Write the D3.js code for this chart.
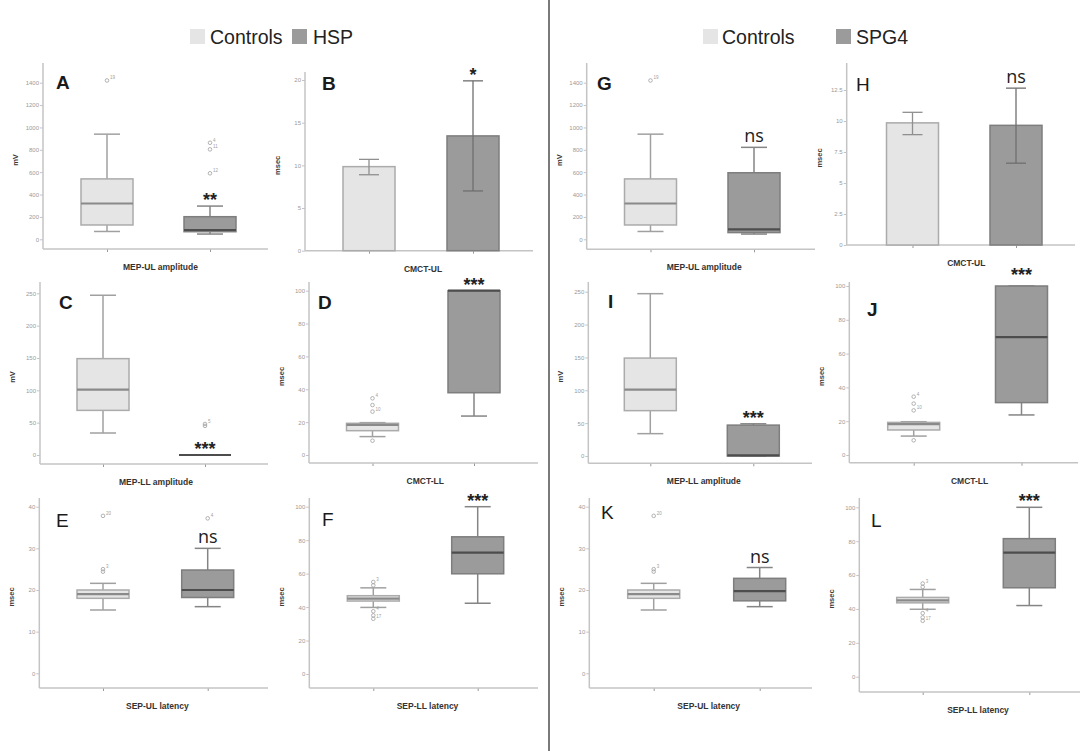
<!DOCTYPE html>
<html>
<head>
<meta charset="utf-8">
<script src="https://cdn.jsdelivr.net/npm/d3@7"></script>
<style>
  body { margin: 0; background: #fff; }
  svg { font-family: "Liberation Sans", Arial, sans-serif; }
</style>
</head>
<body>
<svg id="chart" width="1083" height="751"></svg>
<script>
// box stats: [low whisker, Q1, median, Q3, high whisker]
const mepUL_controls = [70, 128, 320, 540, 940];
const mepUL_hsp = [47, 68, 83, 202, 297];
const mepUL_spg4 = [47, 60, 89, 595, 822];

const mepLL_controls = [34, 69, 101, 149, 247];
const mepLL_hsp = [0, 0, 0, 0, 0];
const mepLL_spg4 = [0, 0, 1, 47, 49];

const cmctLL_controls = [11.2, 14.8, 18.3, 19.3, 19.7];
const cmctLL_hsp = [23.7, 37.9, 100, 100, 100];
const cmctLL_spg4 = [23.7, 31, 69.8, 100, 100];

const sepUL_controls = [15.2, 18, 19, 20, 21.6];
const sepUL_hsp = [16, 18.2, 20, 24.8, 30];
const sepUL_spg4 = [16, 17.4, 19.75, 22.8, 25.4];

const sepLL_controls = [39.8, 43.6, 45, 46.8, 51.5];
const sepLL_hsp = [42.3, 59.9, 72.6, 82, 100];
const sepLL_spg4 = [42, 52.5, 73.3, 81.5, 100];

// CMCT-UL bar charts: [mean, error low, error high]
const cmctUL_controls = [9.85, 8.9, 10.7];
const cmctUL_hsp = [13.45, 7.0, 19.9];
const cmctUL_spg4 = [9.65, 6.6, 12.65];

// outliers: [value, case label] (empty label = unlabeled point)
const mepUL_controls_out = [[1420, "19"]];
const mepUL_hsp_out = [[863, "4"], [804, "11"], [590, "12"]];
const mepLL_hsp_out = [[48, "5"], [45, ""]];
const cmctLL_controls_out = [[34.5, "4"], [30.4, ""], [26.4, "10"], [8.7, ""]];
const sepUL_controls_out = [[37.8, "20"], [25, "3"], [24.4, ""]];
const sepUL_hsp_out = [[37.2, "4"]];
const sepLL_controls_out = [[55, "3"], [53, ""], [37.5, "4"], [35, ""], [33, "17"]];

// tick values
const ticksMep = [0, 200, 400, 600, 800, 1000, 1200, 1400];
const ticksMepLL = [0, 50, 100, 150, 200, 250];
const ticksCmctUL_hsp = [0, 5, 10, 15, 20];
const ticksCmctUL_spg4 = [0, 2.5, 5, 7.5, 10, 12.5];
const ticksPct = [0, 20, 40, 60, 80, 100];
const ticksSepUL = [0, 10, 20, 30, 40];

const groupsLeft = ["Controls", "HSP"];
const groupsRight = ["Controls", "SPG4"];

// panel layout (pixel frames only)
const panels = [
  {id: "A", type: "box", x: 43, axisY: 249, top: 63, right: 268, y0: 239.3, yTop: 82.7, ticks: ticksMep, c: [107, 210], unit: "mV", label: "MEP-UL amplitude", groups: groupsLeft, data: [mepUL_controls, mepUL_hsp], out: [mepUL_controls_out, mepUL_hsp_out], sig: "**", letter: [56, 89], bold: true},
  {id: "B", type: "bar", x: 305, axisY: 250.7, top: 72, right: 533, y0: 250.7, yTop: 80, ticks: ticksCmctUL_hsp, c: [369, 473], unit: "msec", label: "CMCT-UL", groups: groupsLeft, data: [cmctUL_controls, cmctUL_hsp], sig: "*", letter: [322, 90], bold: true},
  {id: "C", type: "box", x: 40, axisY: 464, top: 282, right: 268, y0: 455, yTop: 293.3, ticks: ticksMepLL, c: [103, 205], unit: "mV", label: "MEP-LL amplitude", groups: groupsLeft, data: [mepLL_controls, mepLL_hsp], out: [[], mepLL_hsp_out], sig: "***", letter: [59, 309], bold: true},
  {id: "D", type: "box", x: 309, axisY: 463, top: 282, right: 538, y0: 455, yTop: 290.7, ticks: ticksPct, c: [372.5, 474], unit: "msec", label: "CMCT-LL", groups: groupsLeft, data: [cmctLL_controls, cmctLL_hsp], out: [cmctLL_controls_out, []], sig: "***", letter: [318, 309], bold: true},
  {id: "E", type: "box", x: 39.3, axisY: 688, top: 498, right: 268, y0: 673.3, yTop: 506.7, ticks: ticksSepUL, c: [103, 207.7], unit: "msec", label: "SEP-UL latency", groups: groupsLeft, data: [sepUL_controls, sepUL_hsp], out: [sepUL_controls_out, sepUL_hsp_out], sig: "ns", letter: [56, 527], bold: false},
  {id: "F", type: "box", x: 309.3, axisY: 688, top: 498, right: 538, y0: 674, yTop: 506.7, ticks: ticksPct, c: [373.3, 477.7], unit: "msec", label: "SEP-LL latency", groups: groupsLeft, data: [sepLL_controls, sepLL_hsp], out: [sepLL_controls_out, []], sig: "***", letter: [322, 526], bold: false},
  {id: "G", type: "box", x: 586.7, axisY: 249.3, top: 63, right: 815, y0: 239.3, yTop: 82.7, ticks: ticksMep, c: [650.5, 754], unit: "mV", label: "MEP-UL amplitude", groups: groupsRight, data: [mepUL_controls, mepUL_spg4], out: [mepUL_controls_out, []], sig: "ns", letter: [597, 90], bold: true},
  {id: "H", type: "bar", x: 846.7, axisY: 245, top: 63, right: 1075, y0: 245, yTop: 90, ticks: ticksCmctUL_spg4, c: [912.5, 1016], unit: "msec", label: "CMCT-UL", groups: groupsRight, data: [cmctUL_controls, cmctUL_spg4], sig: "ns", letter: [856, 91], bold: false},
  {id: "I", type: "box", x: 588.3, axisY: 463.3, top: 282, right: 812, y0: 456, yTop: 291.7, ticks: ticksMepLL, c: [650.3, 753.3], unit: "mV", label: "MEP-LL amplitude", groups: groupsRight, data: [mepLL_controls, mepLL_spg4], out: [[], []], sig: "***", letter: [608, 308], bold: true},
  {id: "J", type: "box", x: 849.3, axisY: 462.7, top: 282, right: 1078, y0: 455, yTop: 286, ticks: ticksPct, c: [913.7, 1021.5], unit: "msec", label: "CMCT-LL", groups: groupsRight, data: [cmctLL_controls, cmctLL_spg4], out: [cmctLL_controls_out, []], sig: "***", letter: [867, 316], bold: true, sigLift: 5},
  {id: "K", type: "box", x: 589.3, axisY: 688, top: 498, right: 812, y0: 673.3, yTop: 506.7, ticks: ticksSepUL, c: [653.7, 759.7], unit: "msec", label: "SEP-UL latency", groups: groupsRight, data: [sepUL_controls, sepUL_spg4], out: [sepUL_controls_out, []], sig: "ns", letter: [601, 519], bold: false},
  {id: "L", type: "box", x: 859.3, axisY: 692, top: 498, right: 1080, y0: 676.7, yTop: 507.3, ticks: ticksPct, c: [922.7, 1029.3], unit: "msec", label: "SEP-LL latency", groups: groupsRight, data: [sepLL_controls, sepLL_spg4], out: [sepLL_controls_out, []], sig: "***", letter: [871, 527], bold: false}
];

const fills = ["#e5e5e5", "#9b9b9b"];
const strokes = ["#ababab", "#7e7e7e"];
const whiskerCol = ["#a0a0a0", "#858585"];
const medianCol = ["#8a8a8a", "#4d4d4d"];
const axisCol = "#c4c4c4";

const svg = d3.select("#chart");

// divider
svg.append("line")
  .attr("x1", 549).attr("x2", 549).attr("y1", 0).attr("y2", 751)
  .attr("stroke", "#7a7a7a").attr("stroke-width", 2);

// legends: [light square x, first text x, dark square x, second text x]
function legend(pos, groups) {
  const g = svg.append("g");
  g.append("rect").attr("x", pos[0]).attr("y", 29).attr("width", 15).attr("height", 15).attr("fill", fills[0]);
  g.append("text").attr("x", pos[1]).attr("y", 44).attr("font-size", 19.5).attr("fill", "#222").text(groups[0]);
  g.append("rect").attr("x", pos[2]).attr("y", 29).attr("width", 15).attr("height", 15).attr("fill", fills[1]);
  g.append("text").attr("x", pos[3]).attr("y", 44).attr("font-size", 19.5).attr("fill", "#222").text(groups[1]);
}
legend([190, 210, 292, 313], groupsLeft);
legend([703, 722, 836, 856], groupsRight);

panels.forEach(p => {
  const maxTick = p.ticks[p.ticks.length - 1];
  const y = d3.scaleLinear().domain([0, maxTick]).range([p.y0, p.yTop]);
  const x = d3.scalePoint().domain(p.groups).range(p.c);
  const g = svg.append("g").attr("id", "panel-" + p.id);

  // y axis
  const yAxis = d3.axisLeft(y).tickValues(p.ticks).tickSize(3).tickPadding(1).tickFormat(d3.format(""));
  const ya = g.append("g").attr("transform", `translate(${p.x},0)`).call(yAxis);
  ya.select(".domain").remove();
  ya.selectAll("line").attr("stroke", axisCol);
  ya.selectAll("text").attr("font-size", 6).attr("fill", "#9a9a9a").attr("font-family", "Liberation Sans, Arial");
  g.append("line").attr("x1", p.x).attr("x2", p.x).attr("y1", p.top).attr("y2", p.axisY)
    .attr("stroke", axisCol).attr("stroke-width", 1.5);

  // x axis
  const xAxis = d3.axisBottom(x).tickSize(3).tickFormat("");
  const xa = g.append("g").attr("transform", `translate(0,${p.axisY})`).call(xAxis);
  xa.select(".domain").remove();
  xa.selectAll("line").attr("stroke", "#999");
  g.append("line").attr("x1", p.x).attr("x2", p.right).attr("y1", p.axisY).attr("y2", p.axisY)
    .attr("stroke", axisCol).attr("stroke-width", 1.5);

  // axis titles
  g.append("text")
    .attr("transform", `translate(${p.x - 25},${(p.top + p.axisY) / 2 + 4}) rotate(-90)`)
    .attr("text-anchor", "middle").attr("font-size", 7.5).attr("font-weight", "bold").attr("fill", "#3a3a3a")
    .text(p.unit);
  g.append("text")
    .attr("x", (p.c[0] + p.c[1]) / 2 + 2).attr("y", p.axisY + 21)
    .attr("text-anchor", "middle").attr("font-size", 8.5).attr("font-weight", "bold").attr("fill", "#333")
    .text(p.label);

  // panel letter
  g.append("text").attr("x", p.letter[0]).attr("y", p.letter[1])
    .attr("font-size", 19).attr("font-weight", p.bold ? "bold" : "normal").attr("fill", "#1a1a1a")
    .text(p.id);

  const bw = 52, cap = 26;
  if (p.type === "box") {
    p.data.forEach((s, i) => {
      const cx = x(p.groups[i]);
      const [lo, q1, med, q3, hi] = s;
      const bg = g.append("g");
      bg.append("line").attr("x1", cx).attr("x2", cx).attr("y1", y(hi)).attr("y2", y(q3))
        .attr("stroke", whiskerCol[i]).attr("stroke-width", 1.5);
      bg.append("line").attr("x1", cx).attr("x2", cx).attr("y1", y(q1)).attr("y2", y(lo))
        .attr("stroke", whiskerCol[i]).attr("stroke-width", 1.5);
      [hi, lo].forEach(v => {
        bg.append("line").attr("x1", cx - cap / 2).attr("x2", cx + cap / 2).attr("y1", y(v)).attr("y2", y(v))
          .attr("stroke", whiskerCol[i]).attr("stroke-width", 1.5);
      });
      bg.append("rect").attr("x", cx - bw / 2).attr("width", bw)
        .attr("y", y(q3)).attr("height", Math.max(0, y(q1) - y(q3)))
        .attr("fill", fills[i]).attr("stroke", strokes[i]).attr("stroke-width", 1.5);
      bg.append("line").attr("x1", cx - bw / 2).attr("x2", cx + bw / 2).attr("y1", y(med)).attr("y2", y(med))
        .attr("stroke", medianCol[i]).attr("stroke-width", 2.2);

      // outliers
      const o = (p.out && p.out[i]) || [];
      o.forEach(([v, lab]) => {
        bg.append("circle").attr("cx", cx).attr("cy", y(v)).attr("r", 1.8)
          .attr("fill", "none").attr("stroke", "#a0a0a0").attr("stroke-width", 0.8);
        if (lab) {
          bg.append("text").attr("x", cx + 3).attr("y", y(v) - 1).attr("font-size", 4.5)
            .attr("fill", "#a0a0a0").text(lab);
        }
      });
    });
  } else {
    p.data.forEach((s, i) => {
      const cx = x(p.groups[i]);
      const [m, lo, hi] = s;
      g.append("rect").attr("x", cx - bw / 2).attr("width", bw)
        .attr("y", y(m)).attr("height", y(0) - y(m))
        .attr("fill", fills[i]).attr("stroke", strokes[i]).attr("stroke-width", 1.5);
      g.append("line").attr("x1", cx).attr("x2", cx).attr("y1", y(hi)).attr("y2", y(lo))
        .attr("stroke", i ? "#6f6f6f" : "#8f8f8f").attr("stroke-width", 1.3);
      [hi, lo].forEach(v => {
        g.append("line").attr("x1", cx - 10).attr("x2", cx + 10).attr("y1", y(v)).attr("y2", y(v))
          .attr("stroke", i ? "#6f6f6f" : "#8f8f8f").attr("stroke-width", 1.3);
      });
    });
  }

  // significance mark over the patient group
  const sx = x(p.groups[1]);
  const sy = y(p.data[1][p.type === "box" ? 4 : 2]) - 10 - (p.sigLift || 0);
  if (p.sig === "ns") {
    g.append("text").attr("x", sx).attr("y", sy + 5).attr("text-anchor", "middle")
      .attr("font-family", "Open Sans, sans-serif").attr("font-size", 18).attr("fill", "#222").text("ns");
  } else {
    g.append("text").attr("x", sx).attr("y", sy + 10).attr("text-anchor", "middle")
      .attr("font-size", 18).attr("font-weight", "bold").attr("fill", "#222").text(p.sig);
  }
});
</script>
</body>
</html>
